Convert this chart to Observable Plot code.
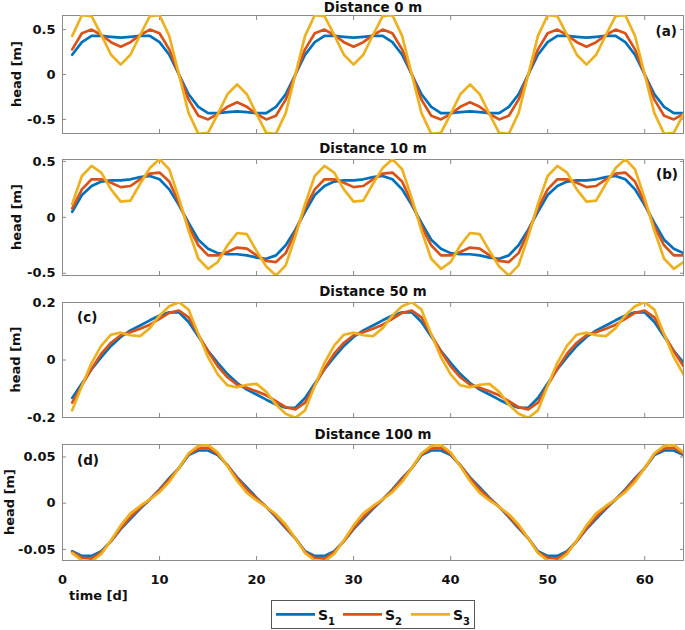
<!DOCTYPE html>
<html><head><meta charset="utf-8">
<script src="https://cdn.jsdelivr.net/npm/d3@7"></script>
<script src="https://cdn.jsdelivr.net/npm/@observablehq/plot@0.6"></script>
<style>
body{margin:0;background:#fff;}
#wrap{position:relative;width:685px;height:630px;overflow:hidden;}
#wrap svg{position:absolute;left:0;}
</style></head><body><div id="wrap"></div>
<script>
const days = d3.range(1, 65);
const xTicks = [0, 10, 20, 30, 40, 50, 60];
const seriesLabels = ["1", "2", "3"];
const colors = ["#0072BD", "#D95319", "#EDB120"];
const titles = ["Distance 0 m", "Distance 10 m", "Distance 50 m", "Distance 100 m"];
const panelLabels = ["(a)", "(b)", "(c)", "(d)"];
const yTicksA = [-0.5, 0, 0.5];
const yTicksB = [-0.5, 0, 0.5];
const yTicksC = [-0.2, 0, 0.2];
const yTicksD = [-0.05, 0, 0.05];

const S1a = [0.22,0.36,0.43,0.43,0.42,0.41,0.42,0.43,0.43,0.36,0.22,0.00,-0.22,-0.36,-0.43,-0.43,-0.42,-0.41,-0.42,-0.43,-0.43,-0.36,-0.22,0.00,
0.22,0.36,0.43,0.43,0.42,0.41,0.42,0.43,0.43,0.36,0.22,0.00,-0.22,-0.36,-0.43,-0.43,-0.42,-0.41,-0.42,-0.43,-0.43,-0.36,-0.22,0.00,
0.22,0.36,0.43,0.43,0.42,0.41,0.42,0.43,0.43,0.36,0.22,0.00,-0.22,-0.36,-0.43,-0.43];
const S2a = [0.28,0.46,0.50,0.44,0.36,0.31,0.36,0.44,0.50,0.46,0.28,0.00,-0.28,-0.46,-0.50,-0.44,-0.36,-0.31,-0.36,-0.44,-0.50,-0.46,-0.28,0.00,
0.28,0.46,0.50,0.44,0.36,0.31,0.36,0.44,0.50,0.46,0.28,0.00,-0.28,-0.46,-0.50,-0.44,-0.36,-0.31,-0.36,-0.44,-0.50,-0.46,-0.28,0.00,
0.28,0.46,0.50,0.44,0.36,0.31,0.36,0.44,0.50,0.46,0.28,0.00,-0.28,-0.46,-0.50,-0.44];
const S3a = [0.43,0.66,0.65,0.44,0.22,0.11,0.22,0.44,0.65,0.66,0.43,0.00,-0.43,-0.66,-0.65,-0.44,-0.22,-0.11,-0.22,-0.44,-0.65,-0.66,-0.43,0.00,
0.43,0.66,0.65,0.44,0.22,0.11,0.22,0.44,0.65,0.66,0.43,0.00,-0.43,-0.66,-0.65,-0.44,-0.22,-0.11,-0.22,-0.44,-0.65,-0.66,-0.43,0.00,
0.43,0.66,0.65,0.44,0.22,0.11,0.22,0.44,0.65,0.66,0.43,0.00,-0.43,-0.66,-0.65,-0.44];

const S1b = [0.05,0.20,0.28,0.32,0.33,0.33,0.34,0.36,0.37,0.34,0.25,0.11,-0.05,-0.20,-0.28,-0.32,-0.33,-0.33,-0.34,-0.36,-0.37,-0.34,-0.25,-0.11,
0.05,0.20,0.28,0.32,0.33,0.33,0.34,0.36,0.37,0.34,0.25,0.11,-0.05,-0.20,-0.28,-0.32,-0.33,-0.33,-0.34,-0.36,-0.37,-0.34,-0.25,-0.11,
0.05,0.20,0.28,0.32,0.33,0.33,0.34,0.36,0.37,0.34,0.25,0.11,-0.05,-0.20,-0.28,-0.32];
const S2b = [0.08,0.25,0.34,0.34,0.31,0.27,0.28,0.34,0.39,0.40,0.32,0.13,-0.08,-0.25,-0.34,-0.34,-0.31,-0.27,-0.28,-0.34,-0.39,-0.40,-0.32,-0.13,
0.08,0.25,0.34,0.34,0.31,0.27,0.28,0.34,0.39,0.40,0.32,0.13,-0.08,-0.25,-0.34,-0.34,-0.31,-0.27,-0.28,-0.34,-0.39,-0.40,-0.32,-0.13,
0.08,0.25,0.34,0.34,0.31,0.27,0.28,0.34,0.39,0.40,0.32,0.13,-0.08,-0.25,-0.34,-0.34];
const S3b = [0.12,0.37,0.46,0.40,0.25,0.14,0.15,0.30,0.44,0.52,0.43,0.17,-0.12,-0.37,-0.46,-0.40,-0.25,-0.14,-0.15,-0.30,-0.44,-0.52,-0.43,-0.17,
0.12,0.37,0.46,0.40,0.25,0.14,0.15,0.30,0.44,0.52,0.43,0.17,-0.12,-0.37,-0.46,-0.40,-0.25,-0.14,-0.15,-0.30,-0.44,-0.52,-0.43,-0.17,
0.12,0.37,0.46,0.40,0.25,0.14,0.15,0.30,0.44,0.52,0.43,0.17,-0.12,-0.37,-0.46,-0.40];

const S1c = [-0.132,-0.082,-0.032,0.010,0.049,0.080,0.103,0.120,0.138,0.155,0.166,0.166,0.132,0.082,0.032,-0.010,-0.049,-0.080,-0.103,-0.120,-0.138,-0.155,-0.166,-0.166,
-0.132,-0.082,-0.032,0.010,0.049,0.080,0.103,0.120,0.138,0.155,0.166,0.166,0.132,0.082,0.032,-0.010,-0.049,-0.080,-0.103,-0.120,-0.138,-0.155,-0.166,-0.166,
-0.132,-0.082,-0.032,0.010,0.049,0.080,0.103,0.120,0.138,0.155,0.166,0.166,0.132,0.082,0.032,-0.010];
const S2c = [-0.148,-0.088,-0.030,0.022,0.060,0.086,0.097,0.109,0.123,0.143,0.164,0.172,0.148,0.088,0.030,-0.022,-0.060,-0.086,-0.097,-0.109,-0.123,-0.143,-0.164,-0.172,
-0.148,-0.088,-0.030,0.022,0.060,0.086,0.097,0.109,0.123,0.143,0.164,0.172,0.148,0.088,0.030,-0.022,-0.060,-0.086,-0.097,-0.109,-0.123,-0.143,-0.164,-0.172,
-0.148,-0.088,-0.030,0.022,0.060,0.086,0.097,0.109,0.123,0.143,0.164,0.172,0.148,0.088,0.030,-0.022];
const S3c = [-0.175,-0.090,-0.010,0.050,0.088,0.095,0.086,0.083,0.111,0.155,0.187,0.201,0.175,0.090,0.010,-0.050,-0.088,-0.095,-0.086,-0.083,-0.111,-0.155,-0.187,-0.201,
-0.175,-0.090,-0.010,0.050,0.088,0.095,0.086,0.083,0.111,0.155,0.187,0.201,0.175,0.090,0.010,-0.050,-0.088,-0.095,-0.086,-0.083,-0.111,-0.155,-0.187,-0.201,
-0.175,-0.090,-0.010,0.050,0.088,0.095,0.086,0.083,0.111,0.155,0.187,0.201,0.175,0.090,0.010,-0.050];

const S1d = [-0.052,-0.057,-0.057,-0.052,-0.041,-0.028,-0.017,-0.006,0.004,0.015,0.027,0.038,0.052,0.057,0.057,0.052,0.041,0.028,0.017,0.006,-0.004,-0.015,-0.027,-0.038,
-0.052,-0.057,-0.057,-0.052,-0.041,-0.028,-0.017,-0.006,0.004,0.015,0.027,0.038,0.052,0.057,0.057,0.052,0.041,0.028,0.017,0.006,-0.004,-0.015,-0.027,-0.038,
-0.052,-0.057,-0.057,-0.052,-0.041,-0.028,-0.017,-0.006,0.004,0.015,0.027,0.038,0.052,0.057,0.057,0.052];
const S2d = [-0.053,-0.059,-0.060,-0.053,-0.041,-0.027,-0.015,-0.005,0.004,0.014,0.026,0.038,0.053,0.059,0.060,0.053,0.041,0.027,0.015,0.005,-0.004,-0.014,-0.026,-0.038,
-0.053,-0.059,-0.060,-0.053,-0.041,-0.027,-0.015,-0.005,0.004,0.014,0.026,0.038,0.053,0.059,0.060,0.053,0.041,0.027,0.015,0.005,-0.004,-0.014,-0.026,-0.038,
-0.053,-0.059,-0.060,-0.053,-0.041,-0.027,-0.015,-0.005,0.004,0.014,0.026,0.038,0.053,0.059,0.060,0.053];
const S3d = [-0.054,-0.062,-0.063,-0.055,-0.040,-0.024,-0.011,-0.003,0.004,0.012,0.023,0.038,0.054,0.062,0.063,0.055,0.040,0.024,0.011,0.003,-0.004,-0.012,-0.023,-0.038,
-0.054,-0.062,-0.063,-0.055,-0.040,-0.024,-0.011,-0.003,0.004,0.012,0.023,0.038,0.054,0.062,0.063,0.055,0.040,0.024,0.011,0.003,-0.004,-0.012,-0.023,-0.038,
-0.054,-0.062,-0.063,-0.055,-0.040,-0.024,-0.011,-0.003,0.004,0.012,0.023,0.038,0.054,0.062,0.063,0.055];

const panels = [
  {series:[S1a,S2a,S3a], ticks:yTicksA, domain:[-0.657,0.657], top:0,   h:140, mt:15, mb:7},
  {series:[S1b,S2b,S3b], ticks:yTicksB, domain:[-0.52,0.517], top:140, h:140, mt:19, mb:5},
  {series:[S1c,S2c,S3c], ticks:yTicksC, domain:[-0.2,0.2],    top:280, h:140, mt:22, mb:3},
  {series:[S1d,S2d,S3d], ticks:yTicksD, domain:[-0.062,0.0635], top:420, h:170, mt:24, mb:30}
];

const FONT = "DejaVu Sans";
const AX = "#8a8a8a";
const wrap = document.getElementById("wrap");

panels.forEach((p, k) => {
  const last = k === panels.length - 1;
  const marks = [
    Plot.frame({stroke: AX}),
    Plot.axisX(xTicks, {anchor: "bottom", tickSize: -4, tickPadding: 18, tickFormat: last ? (d => String(d)) : (() => ""), label: null, stroke: AX, fill: "#111"}),
    Plot.axisX(xTicks, {anchor: "top", tickSize: -4, tickFormat: () => "", label: null, stroke: AX}),
    Plot.axisY(p.ticks, {anchor: "left", tickSize: -4, tickPadding: 11, tickFormat: d => String(d), label: null, stroke: AX, fill: "#111"}),
    Plot.axisY(p.ticks, {anchor: "right", tickSize: -4, tickFormat: () => "", label: null, stroke: AX})
  ];
  p.series.forEach((s, j) => {
    marks.push(Plot.lineY(s, {x: days, stroke: colors[j], strokeWidth: 2.7, clip: true}));
  });
  const svg = Plot.plot({
    width: 685, height: p.h,
    marginLeft: 62, marginRight: 2, marginTop: p.mt, marginBottom: p.mb,
    style: {fontFamily: FONT, fontWeight: "bold", fontSize: "13px", background: "transparent", overflow: "visible"},
    x: {domain: [0, 64]},
    y: {domain: p.domain},
    marks
  });
  svg.style.top = p.top + "px";
  wrap.appendChild(svg);
});

// overlay texts & legend
const ov = d3.select(wrap).append("svg")
  .attr("width", 685).attr("height", 630)
  .style("top", "0px")
  .style("font-family", FONT).style("font-weight", "bold").attr("fill", "#111");

const titleY = [12, 153.3, 296, 439.3];
titles.forEach((t, i) => ov.append("text").attr("x", 373).attr("y", titleY[i])
  .attr("text-anchor", "middle").attr("font-size", 13.4).text(t));

const ylabY = [74, 217, 359.5, 502];
const ylabX = [20.5, 20.5, 20, 13.5];
ylabY.forEach((y, i) => ov.append("text")
  .attr("transform", `translate(${ylabX[i]},${y}) rotate(-90)`)
  .attr("text-anchor", "middle").attr("font-size", 13).text("head [m]"));

const pl = [
  {x: 677, y: 35.5, a: "end"},
  {x: 678, y: 178.7, a: "end"},
  {x: 77, y: 321.5, a: "start"},
  {x: 77, y: 464.8, a: "start"}
];
panelLabels.forEach((t, i) => ov.append("text").attr("x", pl[i].x).attr("y", pl[i].y)
  .attr("text-anchor", pl[i].a).attr("font-size", 13.5).text(t));

ov.append("text").attr("x", 69).attr("y", 600).attr("font-size", 13).text("time [d]");

// legend
ov.append("rect").attr("x", 271.5).attr("y", 600.5).attr("width", 203).attr("height", 28)
  .attr("fill", "#fff").attr("stroke", "#555").attr("stroke-width", 1);
const legX = [276, 343, 411];
seriesLabels.forEach((s, j) => {
  ov.append("line").attr("x1", legX[j]).attr("x2", legX[j] + 39).attr("y1", 614.3).attr("y2", 614.3)
    .attr("stroke", colors[j]).attr("stroke-width", 2.7);
  const t = ov.append("text").attr("x", legX[j] + 42).attr("y", 619.5).attr("font-size", 14);
  t.append("tspan").text("S");
  t.append("tspan").attr("dy", 5).attr("font-size", 10).text(s);
});
</script>
</body></html>
